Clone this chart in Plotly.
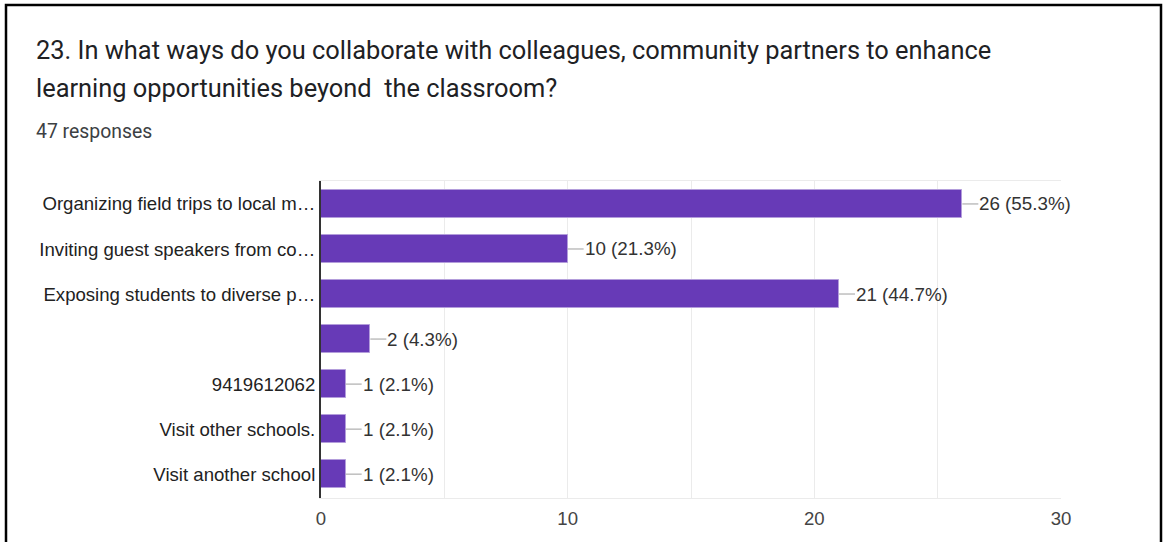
import plotly.graph_objects as go

# Survey question 23: answer options and response counts
categories = [
    "Organizing field trips to local m\u2026",
    "Inviting guest speakers from co\u2026",
    "Exposing students to diverse p\u2026",
    "",
    "9419612062",
    "Visit other schools.",
    "Visit another school",
]
counts = [26, 10, 21, 2, 1, 1, 1]
percents = [55.3, 21.3, 44.7, 4.3, 2.1, 2.1, 2.1]
x_ticks = [0, 5, 10, 15, 20, 25, 30]
x_tick_labels = ["0", "", "10", "", "20", "", "30"]

title_lines = [
    "23. In what ways do you collaborate with colleagues, community partners to enhance",
    "learning opportunities beyond  the classroom?",
]
subtitle = "47 responses"

# Plot-area geometry in pixels (figure is 1165 x 542)
W, H = 1165, 542
L, R, T, B = 321, 104, 181, 44
PW, PH = W - L - R, H - T - B

LABEL_FONT = "Liberation Sans, Arial"
LABEL_SIZE = 18.6


def px_x(px):
    return (px - L) / PW


def px_y(py):
    return (H - B - py) / PH


positions = list(range(len(categories)))

fig = go.Figure(
    go.Bar(
        x=counts,
        y=positions,
        orientation="h",
        width=0.62,
        marker=dict(color="#673ab7", line=dict(color="#b39ddb", width=1)),
        hoverinfo="skip",
    )
)

# Value labels with a short leader line from the bar end
for c, p, pos in zip(counts, percents, positions):
    fig.add_annotation(
        x=c, y=pos, xref="x", yref="y",
        text=f"{c} ({p}%)",
        showarrow=True, arrowhead=0, arrowwidth=1, arrowcolor="#9e9e9e",
        ax=16, ay=0, xanchor="left", yanchor="middle",
        borderpad=0, standoff=0,
        font=dict(family=LABEL_FONT, size=18.8, color="#333333"),
    )

# Question heading and response count
for i, line in enumerate(title_lines):
    fig.add_annotation(
        x=px_x(35), y=px_y(50 + 38 * i), xref="paper", yref="paper",
        text=line, showarrow=False, xanchor="left", yanchor="middle",
        borderpad=0,
        font=dict(family="Roboto", size=25.4, color="#202124"),
    )
fig.add_annotation(
    x=px_x(35), y=px_y(131), xref="paper", yref="paper",
    text=subtitle, showarrow=False, xanchor="left", yanchor="middle",
    borderpad=0,
    font=dict(family="Roboto", size=19.4, color="#3c4043"),
)

# Card frame
fig.add_shape(
    type="path", xref="paper", yref="paper",
    path=(f"M {px_x(6)} {px_y(600)} L {px_x(6)} {px_y(5)} "
          f"L {px_x(1161)} {px_y(5)} L {px_x(1161)} {px_y(600)}"),
    line=dict(color="#000000", width=2.5),
    layer="above",
)

fig.update_layout(
    width=W, height=H,
    margin=dict(l=L, r=R, t=T, b=B, pad=0, autoexpand=False),
    paper_bgcolor="white", plot_bgcolor="white",
    showlegend=False,
    bargap=0,
    xaxis=dict(
        range=[0, 30],
        tickvals=x_ticks, ticktext=x_tick_labels,
        showgrid=True, gridcolor="#ebebeb", gridwidth=1,
        zeroline=False,
        showline=True, linecolor="#ebebeb", linewidth=1, mirror=True,
        ticks="", ticklen=0,
        tickfont=dict(family=LABEL_FONT, size=LABEL_SIZE, color="#444444"),
        ticklabelstandoff=4,
        automargin=False,
        fixedrange=True,
    ),
    yaxis=dict(
        range=[6.53, -0.51],
        tickvals=positions, ticktext=categories,
        showgrid=False, zeroline=False,
        showline=True, linecolor="#333333", linewidth=2,
        ticks="",
        tickfont=dict(family=LABEL_FONT, size=LABEL_SIZE, color="#222222"),
        ticklabelstandoff=0,
        automargin=False,
        fixedrange=True,
    ),
)

fig.write_html("out.html")
